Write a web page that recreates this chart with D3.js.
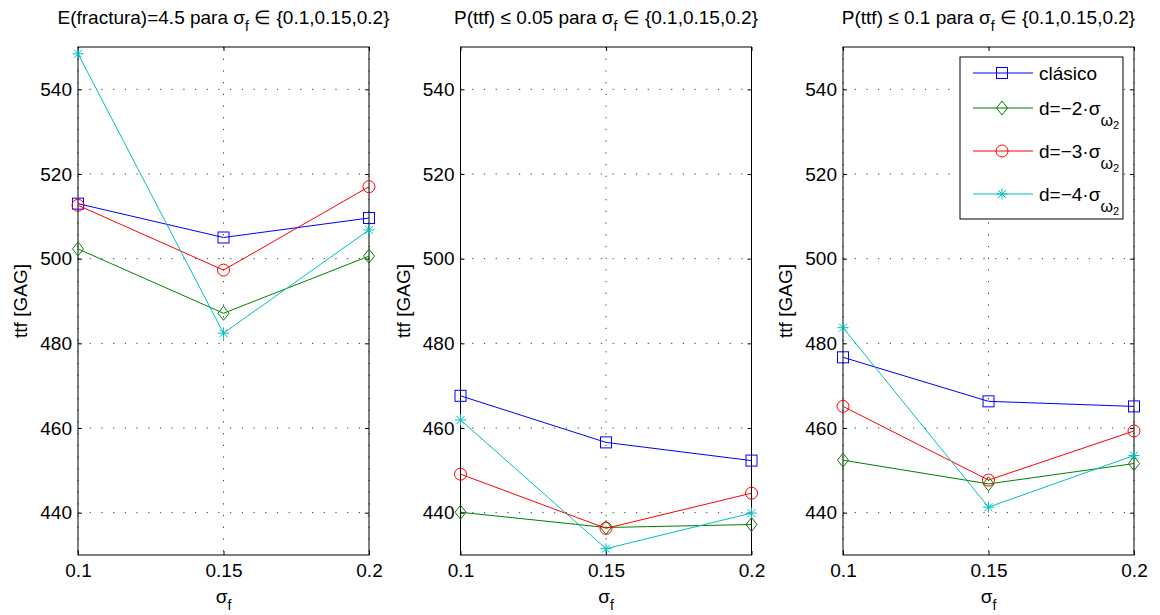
<!DOCTYPE html>
<html>
<head>
<meta charset="utf-8">
<script src="https://cdn.jsdelivr.net/npm/d3@7"></script>
<style>
  body { margin: 0; background: white; }
  text { font-family: "Liberation Sans", Arial, sans-serif; fill: black; }
</style>
</head>
<body>
<svg width="1160" height="615"></svg>
<script>
// sigma_f values and ticks
const sigmaF = [0.1, 0.15, 0.2]
const yTicks = [440, 460, 480, 500, 520, 540]
const xTickLabels = ['0.1', '0.15', '0.2']

// one entry per panel: E(fractura)=4.5, P(ttf)<=0.05, P(ttf)<=0.1
const clasico = [[513.0, 505.0, 509.6], [467.6, 456.6, 452.3], [476.7, 466.3, 465.1]]
const dMinus2 = [[502.3, 487.1, 500.6], [440.1, 436.5, 437.2], [452.4, 446.8, 451.6]]
const dMinus3 = [[512.6, 497.3, 517.0], [449.1, 436.3, 444.6], [465.1, 447.7, 459.3]]
const dMinus4 = [[548.4, 482.4, 506.8], [461.9, 431.5, 439.9], [483.7, 441.3, 453.5]]

const titles = [
  ['E(fractura)=4.5 para σ', 'f', ' ∈ {0.1,0.15,0.2}'],
  ['P(ttf) ≤ 0.05 para σ', 'f', ' ∈ {0.1,0.15,0.2}'],
  ['P(ttf) ≤ 0.1 para σ', 'f', ' ∈ {0.1,0.15,0.2}']
]

const series = [
  { name: 'clásico', sub: null, values: clasico, color: '#0000ff', marker: 'square' },
  { name: 'd=−2·σ', sub: 'ω', values: dMinus2, color: '#008000', marker: 'diamond' },
  { name: 'd=−3·σ', sub: 'ω', values: dMinus3, color: '#ff0000', marker: 'circle' },
  { name: 'd=−4·σ', sub: 'ω', values: dMinus4, color: '#00bfbf', marker: 'star' }
]

const svg = d3.select('svg')

svg.append('rect')
  .attr('width', 1160)
  .attr('height', 615)
  .attr('fill', 'white')

const plotTop = 47
const plotBottom = 555
const panelW = 291
const fontSize = 19

const y = d3.scaleLinear().domain([430, 550]).range([plotBottom, plotTop])

function marker(g, type, color) {
  if (type === 'square') {
    g.append('rect')
      .attr('x', -5.5).attr('y', -5.5)
      .attr('width', 11).attr('height', 11)
      .attr('fill', 'none').attr('stroke', color)
  } else if (type === 'circle') {
    g.append('circle')
      .attr('r', 6)
      .attr('fill', 'none').attr('stroke', color)
  } else if (type === 'diamond') {
    g.append('path')
      .attr('d', 'M0,-7L5.5,0L0,7L-5.5,0Z')
      .attr('fill', 'none').attr('stroke', color)
  } else {
    g.append('path')
      .attr('d', 'M0,-5.5V5.5M-5.5,0H5.5M-4,-4L4,4M-4,4L4,-4')
      .attr('fill', 'none').attr('stroke', color)
  }
}

titles.forEach((t, i) => {
  const left = 78 + i * 382.5
  const x = d3.scaleLinear().domain([0.1, 0.2]).range([left, left + panelW])

  const g = svg.append('g')

  // dotted grid
  g.append('g')
    .selectAll('line')
    .data(yTicks)
    .join('line')
      .attr('x1', left).attr('x2', left + panelW)
      .attr('y1', d => y(d)).attr('y2', d => y(d))
      .attr('stroke', '#333')
      .attr('stroke-dasharray', '1.2,10.5')
  g.append('g')
    .selectAll('line')
    .data(sigmaF)
    .join('line')
      .attr('x1', d => x(d)).attr('x2', d => x(d))
      .attr('y1', plotTop).attr('y2', plotBottom)
      .attr('stroke', '#333')
      .attr('stroke-dasharray', '1.2,10.5')

  // axes, ticks pointing inward
  const yAxis = g.append('g')
    .attr('transform', `translate(${left},0)`)
    .call(d3.axisLeft(y).tickValues(yTicks).tickSize(-4).tickPadding(6))
  yAxis.selectAll('text').style('font-size', fontSize + 'px')

  g.append('g')
    .attr('transform', `translate(${left + panelW},0)`)
    .call(d3.axisRight(y).tickValues(yTicks).tickSize(-4).tickFormat(''))

  const xAxis = g.append('g')
    .attr('transform', `translate(0,${plotBottom})`)
    .call(d3.axisBottom(x).tickValues(sigmaF).tickSize(-4).tickPadding(9)
      .tickFormat((d, k) => xTickLabels[k]))
  xAxis.selectAll('text').style('font-size', fontSize + 'px')

  g.append('g')
    .attr('transform', `translate(0,${plotTop})`)
    .call(d3.axisTop(x).tickValues(sigmaF).tickSize(-4).tickFormat(''))

  g.selectAll('.domain').remove()
  g.selectAll('.tick line').attr('stroke', 'black')
  g.selectAll('g').attr('font-family', null)

  g.append('rect')
    .attr('x', left).attr('y', plotTop)
    .attr('width', panelW).attr('height', plotBottom - plotTop)
    .attr('fill', 'none')
    .attr('stroke', 'black')

  // title
  const title = g.append('text')
    .attr('x', left + panelW / 2)
    .attr('y', 24)
    .attr('text-anchor', 'middle')
    .style('font-size', fontSize + 'px')
  title.append('tspan').text(t[0])
  title.append('tspan').attr('dy', 7).style('font-size', '14px').text(t[1])
  title.append('tspan').attr('dy', -7).text(t[2])

  // axis labels
  const xl = g.append('text')
    .attr('x', left + panelW / 2)
    .attr('y', 603)
    .attr('text-anchor', 'middle')
    .style('font-size', fontSize + 'px')
  xl.append('tspan').text('σ')
  xl.append('tspan').attr('dy', 7).style('font-size', '14px').text('f')

  g.append('text')
    .attr('transform', `translate(${left - 51},${(plotTop + plotBottom) / 2}) rotate(-90)`)
    .attr('text-anchor', 'middle')
    .style('font-size', fontSize + 'px')
    .text('ttf [GAG]')

  // lines and markers
  const line = d3.line()
    .x((d, k) => x(sigmaF[k]))
    .y(d => y(d))

  series.forEach(s => {
    g.append('path')
      .attr('d', line(s.values[i]))
      .attr('fill', 'none')
      .attr('stroke', s.color)
      .attr('stroke-width', 1)
    s.values[i].forEach((v, k) => {
      const m = g.append('g')
        .attr('transform', `translate(${x(sigmaF[k])},${y(v)})`)
      marker(m, s.marker, s.color)
    })
  })
})

// legend in the third panel
const legend = svg.append('g')
legend.append('rect')
  .attr('x', 960).attr('y', 57)
  .attr('width', 163).attr('height', 162)
  .attr('fill', 'white')
  .attr('stroke', 'black')

const rowY = [73, 108, 151, 194]

series.forEach((s, k) => {
  const ry = rowY[k]
  legend.append('line')
    .attr('x1', 973).attr('x2', 1033)
    .attr('y1', ry).attr('y2', ry)
    .attr('stroke', s.color)
  const m = legend.append('g').attr('transform', `translate(1002,${ry})`)
  marker(m, s.marker, s.color)

  const txt = legend.append('text')
    .attr('x', 1039)
    .attr('y', ry + 7)
    .style('font-size', fontSize + 'px')
  txt.append('tspan').text(s.name)
  if (s.sub) {
    txt.append('tspan').attr('dy', 11).style('font-size', '16px').text(s.sub)
    txt.append('tspan').attr('dy', 3).style('font-size', '11px').text('2')
  }
})
</script>
</body>
</html>
